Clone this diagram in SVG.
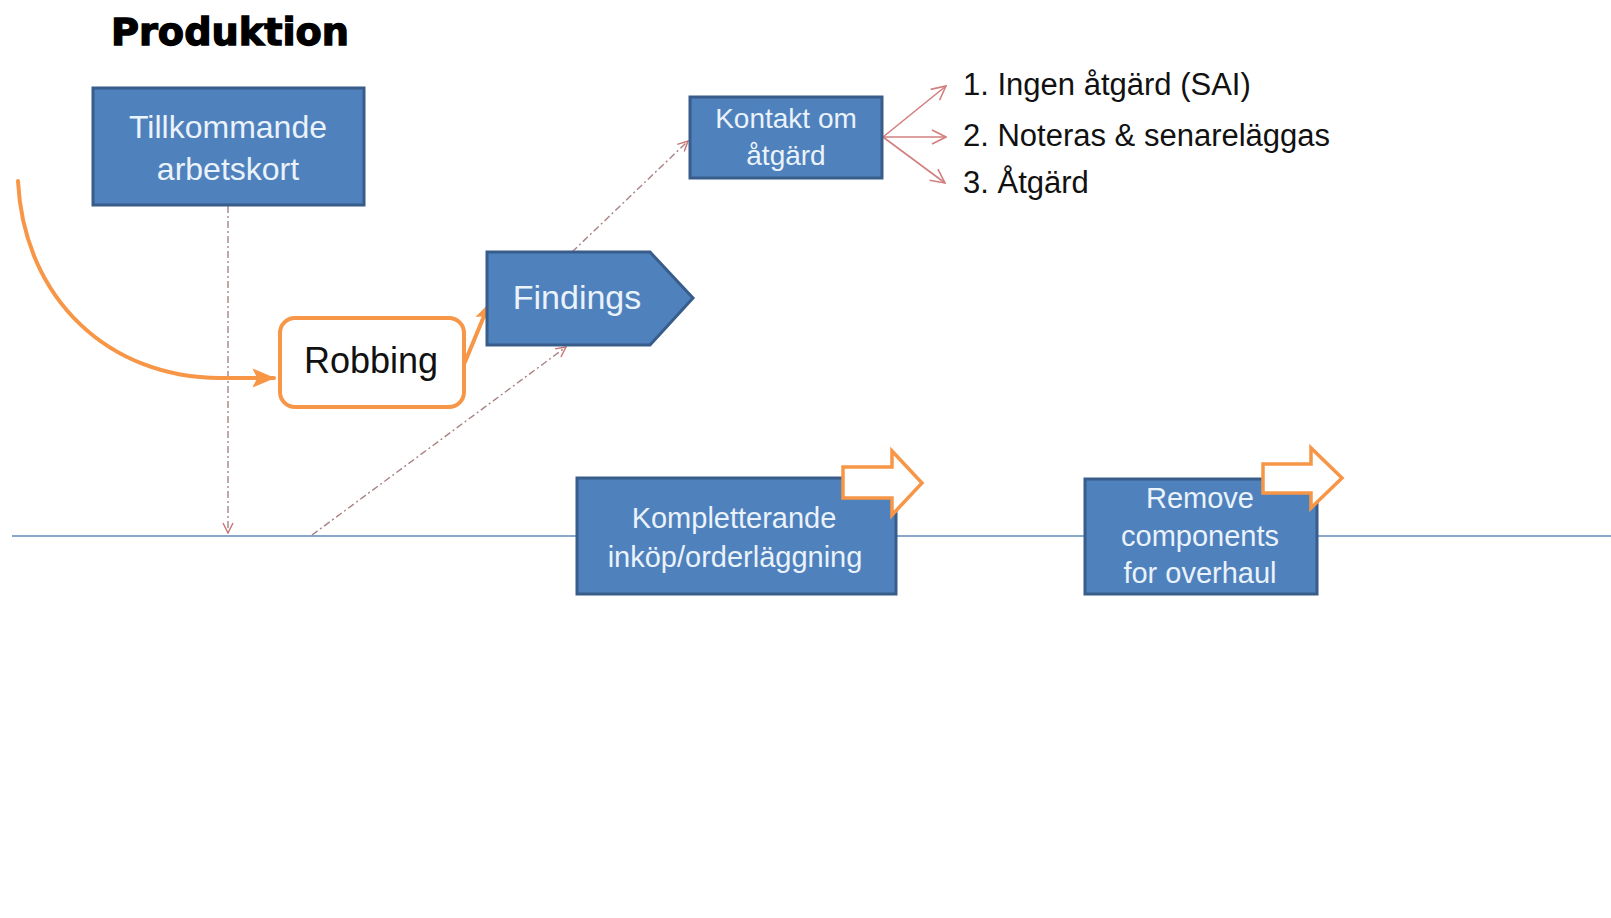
<svg xmlns="http://www.w3.org/2000/svg" width="1611" height="918" viewBox="0 0 1611 918">
  <style>
    .box { fill: #4F81BD; stroke: #385D8A; stroke-width: 3; }
    .boxText { font-family: "Liberation Sans", Arial, sans-serif; fill: #EAF2FA; text-anchor: middle; }
    .plain { font-family: "Liberation Sans", Arial, sans-serif; fill: #111111; }
    .flow { fill: none; stroke: #F79646; stroke-width: 4; stroke-linecap: round; }
    .hollow { fill: #FFFFFF; stroke: #F79646; stroke-width: 3.5; stroke-linejoin: miter; }
    .dashdot { fill: none; stroke: #A98383; stroke-width: 1.4; stroke-dasharray: 7 3 2 3; }
    .branch { fill: none; stroke: #D27F7F; stroke-width: 1.6; }
  </style>
  <defs>
    <marker id="orangeHead" markerUnits="userSpaceOnUse" viewBox="0 0 20 20" refX="18" refY="10" markerWidth="24" markerHeight="24" orient="auto">
      <path d="M0,2 L19,10 L0,18 L4,10 Z" fill="#F79646"/>
    </marker>
    <marker id="orangeHeadSmall" markerUnits="userSpaceOnUse" viewBox="0 0 20 20" refX="18" refY="10" markerWidth="19" markerHeight="19" orient="auto">
      <path d="M0,2 L19,10 L0,18 L4,10 Z" fill="#F79646"/>
    </marker>
    <marker id="openRed" markerUnits="userSpaceOnUse" viewBox="0 0 12 12" refX="11" refY="6" markerWidth="12" markerHeight="12" orient="auto">
      <path d="M1,1 L11,6 L1,11" fill="none" stroke="#C97272" stroke-width="1.4"/>
    </marker>
    <marker id="openBranch" markerUnits="userSpaceOnUse" viewBox="0 0 16 16" refX="15" refY="8" markerWidth="16" markerHeight="16" orient="auto">
      <path d="M1,1 L15,8 L1,15" fill="none" stroke="#D27F7F" stroke-width="1.6"/>
    </marker>
  </defs>

  <rect x="0" y="0" width="1611" height="918" fill="#FFFFFF"/>

  <!-- title -->
  <text x="111" y="45" font-family="DejaVu Sans, sans-serif" font-weight="bold" font-size="37" fill="#000000" stroke="#000000" stroke-width="1.3" textLength="238" lengthAdjust="spacingAndGlyphs">Produktion</text>

  <!-- timeline -->
  <g id="timeline">
    <line x1="12" y1="536" x2="1611" y2="536" stroke="#5E88B8" stroke-width="1.5"/>
  </g>

  <!-- connectors -->
  <g id="connectors">
    <path class="dashdot" d="M228,206 L228,533" marker-end="url(#openRed)"/>
    <path class="dashdot" d="M312,535 L566,347" marker-end="url(#openRed)"/>
    <path class="dashdot" d="M572,252 L688,141" marker-end="url(#openRed)"/>
    <path class="flow" d="M18,181 C24,300 110,378 220,378 L274,378" marker-end="url(#orangeHead)"/>
    <path class="flow" d="M465,362 L489,304" marker-end="url(#orangeHeadSmall)"/>
    <path class="branch" d="M883,137 L946,86" marker-end="url(#openBranch)"/>
    <path class="branch" d="M883,137 L946,137" marker-end="url(#openBranch)"/>
    <path class="branch" d="M883,137 L945,183" marker-end="url(#openBranch)"/>
  </g>

  <g id="tillkommande">
    <rect class="box" x="93" y="88" width="271" height="117"/>
    <text class="boxText" x="228" y="138" font-size="32">Tillkommande</text>
    <text class="boxText" x="228" y="180" font-size="32">arbetskort</text>
  </g>

  <g id="robbing">
    <rect x="280" y="318" width="184" height="89" rx="15" ry="15" fill="#FFFFFF" stroke="#F79646" stroke-width="4"/>
    <text class="plain" x="371" y="373" font-size="36" text-anchor="middle">Robbing</text>
  </g>

  <g id="findings">
    <polygon class="box" points="487,252 650,252 693,298 650,345 487,345"/>
    <text class="boxText" x="577" y="309" font-size="34">Findings</text>
  </g>

  <g id="kontakt">
    <rect class="box" x="690" y="97" width="192" height="81"/>
    <text class="boxText" x="786" y="128" font-size="28">Kontakt om</text>
    <text class="boxText" x="786" y="165" font-size="28">åtgärd</text>
  </g>

  <g id="options">
    <text class="plain" x="963" y="95" font-size="31">1. Ingen åtgärd (SAI)</text>
    <text class="plain" x="963" y="146" font-size="31">2. Noteras &amp; senareläggas</text>
    <text class="plain" x="963" y="193" font-size="31">3. Åtgärd</text>
  </g>

  <g id="kompletterande">
    <rect class="box" x="577" y="478" width="319" height="116"/>
    <text class="boxText" x="734" y="528" font-size="29">Kompletterande</text>
    <text class="boxText" x="735" y="567" font-size="29">inköp/orderläggning</text>
    <polygon class="hollow" points="843,467 892,467 892,451 922,483 892,515 892,498 843,498"/>
  </g>

  <g id="remove">
    <rect class="box" x="1085" y="479" width="232" height="115"/>
    <text class="boxText" x="1200" y="508" font-size="29">Remove</text>
    <text class="boxText" x="1200" y="546" font-size="29">components</text>
    <text class="boxText" x="1200" y="583" font-size="29">for overhaul</text>
    <polygon class="hollow" points="1263,464 1311,464 1311,448 1342,478 1311,508 1311,493 1263,493"/>
  </g>
</svg>
